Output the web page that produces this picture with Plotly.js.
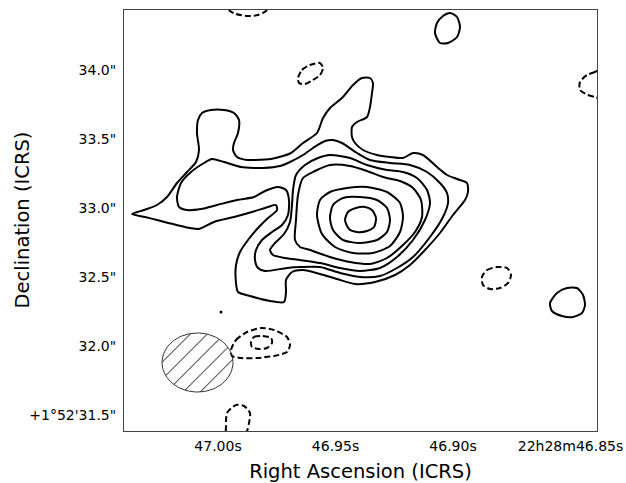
<!DOCTYPE html>
<html>
<head>
<meta charset="utf-8">
<script src="https://cdn.plot.ly/plotly-3.0.1.min.js"></script>
<style>html,body{margin:0;padding:0;background:#fff}#chart{width:626px;height:483px}</style>
</head>
<body>
<div id="chart"></div>
<script>
// Data in image-pixel coordinates (WCS tick labels placed at the matching pixel positions)
const raTickPix = [94, 211.5, 329, 446.5];
const raTickText = ['47.00s', '46.95s', '46.90s', '22h28m46.85s'];
const decTickPix = [16, 85, 154, 223, 292, 361];
const decTickText = ['+1°52\'31.5"', '32.0"', '32.5"', '33.0"', '33.5"', '34.0"'];

// positive contours (solid)
const lev1X = [8,20,33,43,53,63,72,75,73,74,78,87,100,110,115,114,110,109,113,123,130,147,167,179,193,199,206,219,229,238,246,249,248,246,243,233,228,228,231,239,253,266,279,289,299,313,323,333,343,344,341,329,316,301,286,271,251,231,213,196,179,168,162,162,160,146,126,114,112,112,116,124,134,144,153,152,144,128,110,90,75,66,33,21,8];
const lev1Y = [217,221,226,234,248,259,269,281,298,311,318,321,321,318,311,298,288,281,274,271,271,272,278,288,298,313,323,334,346,353,353,348,338,324,314,309,304,294,288,281,276,274,273,278,276,264,256,252,248,239,231,216,198,181,166,156,149,147,152,157,161,159,151,139,129,130,135,139,148,166,179,191,203,213,221,226,224,219,214,209,202,203,211,214,217];
const lev2X = [55,53,57,67,80,88,100,117,130,139,156,166,179,189,201,209,218,233,246,266,286,303,316,323,324,319,306,289,273,256,236,216,196,176,163,141,134,131,132,138,148,158,164,165,162,154,141,130,113,93,77,63,55];
const lev2Y = [224,234,248,259,268,272,269,264,263,263,265,269,276,283,290,291,288,278,271,268,266,259,248,238,228,214,194,174,163,155,154,158,164,164,163,160,163,171,181,191,199,206,216,231,241,244,240,234,231,226,222,221,224];
const lev3X = [172,181,194,206,226,243,263,279,293,303,306,301,289,273,256,236,216,196,176,161,149,146,151,160,166,168,169,172];
const lev3Y = [256,266,273,276,273,266,261,259,253,241,228,211,191,174,163,160,163,168,171,173,176,181,188,197,209,226,241,256];
const lev4X = [179,191,206,226,243,259,276,289,297,298,291,279,263,246,226,206,186,176,171,172,174,179];
const lev4Y = [253,260,266,265,260,254,250,243,231,214,199,186,173,167,169,174,181,184,191,211,236,253];
const lev5X = [193,196,206,223,243,263,276,279,276,266,249,229,211,198,193];
const lev5Y = [216,231,239,243,244,239,228,214,199,185,178,178,184,197,216];
const lev6X = [206,209,219,236,253,263,266,263,253,236,219,209,206];
const lev6Y = [213,226,233,234,231,223,211,199,191,188,191,201,213];
const lev7X = [221,224,232,241,248,252,250,243,233,225,221];
const lev7Y = [211,219,223,224,221,213,204,200,199,202,211];
const blobTopX = [326,333,336,333,324,316,311,313,319,326];
const blobTopY = [418,414,404,394,388,388,398,408,415,418];
const blobRightX = [426,433,443,453,459,461,458,449,438,428,426];
const blobRightY = [128,138,143,143,136,126,118,114,115,120,128];
const dotX = [97];
const dotY = [119];

// negative contours (dashed)
const negAX = [358,363,373,383,387,384,376,366,359,358];
const negAY = [154,161,164,163,156,148,143,142,146,154];
const negBX = [174,178,186,196,199,196,189,181,175,174];
const negBY = [353,361,366,368,363,356,351,347,348,353];
const negCX = [476,471,463,456,456,464,471,476,482,476];
const negCY = [361,359,356,349,341,336,334,333,346,361];
const negDX = [106,112,123,134,142,144,121,104,106];
const negDY = [420,417,415,416,420,425,428,425,420];
const negEX = [116,102,102,103,112,120,126,125,123,116];
const negEY = [-9,0,4,18,26,25,18,8,0,-9];
const negFX = [107,112,123,137,150,163,166,163,150,133,117,108,107];
const negFY = [81,91,99,103,101,94,86,79,75,73,73,75,81];
const negGX = [127,130,138,147,148,143,135,128,127];
const negGY = [89,94,95,93,88,83,82,84,89];

// beam
const beamCenter = [73.5, 68.5];
const beamHalfAxes = [35.5, 29.5];

const solid = [[lev1X,lev1Y],[lev2X,lev2Y],[lev3X,lev3Y],[lev4X,lev4Y],[lev5X,lev5Y],[lev6X,lev6Y],[lev7X,lev7Y],[blobTopX,blobTopY],[blobRightX,blobRightY]];
const dashed = [[negAX,negAY],[negBX,negBY],[negCX,negCY],[negDX,negDY],[negEX,negEY],[negFX,negFY],[negGX,negGY]];

const traces = [];
solid.forEach(([x,y]) => traces.push({type:'scatter', mode:'lines', x:x, y:y, hoverinfo:'skip',
  line:{color:'black', width:2, shape:'spline', smoothing:0.7}}));
dashed.forEach(([x,y]) => traces.push({type:'scatter', mode:'lines', x:x, y:y, hoverinfo:'skip',
  line:{color:'black', width:2, dash:'6px,3px', shape:'spline', smoothing:0.7}}));
traces.push({type:'scatter', mode:'markers', x:dotX, y:dotY, hoverinfo:'skip', marker:{color:'black', size:3}});

const bx = [], by = [];
for (let i = 0; i <= 96; i++) {
  const t = 2 * Math.PI * i / 96;
  bx.push(beamCenter[0] + beamHalfAxes[0] * Math.cos(t));
  by.push(beamCenter[1] + beamHalfAxes[1] * Math.sin(t));
}
traces.push({type:'scatter', mode:'lines', x:bx, y:by, fill:'toself', hoverinfo:'skip',
  fillcolor:'rgba(0,0,0,0)',
  fillpattern:{shape:'/', fgcolor:'black', bgcolor:'rgba(0,0,0,0)', size:12, solidity:0.08},
  line:{color:'#333', width:1}});

const layout = {
  width:626, height:483,
  margin:{l:124, r:29, t:10, b:52},
  paper_bgcolor:'white', plot_bgcolor:'white',
  showlegend:false,
  font:{family:'DejaVu Sans', size:14, color:'black'},
  xaxis:{range:[0,473], showgrid:false, zeroline:false, showline:true, mirror:true,
    linecolor:'#444', linewidth:1, ticks:'outside', ticklen:2, tickcolor:'rgba(0,0,0,0)',
    tickmode:'array', tickvals:raTickPix, ticktext:raTickText, fixedrange:true,
    title:{text:'Right Ascension (ICRS)', font:{size:19.5}, standoff:12}},
  yaxis:{range:[0,421], showgrid:false, zeroline:false, showline:true, mirror:true,
    linecolor:'#444', linewidth:1, ticks:'outside', ticklen:4, tickcolor:'rgba(0,0,0,0)',
    tickmode:'array', tickvals:decTickPix, ticktext:decTickText, fixedrange:true},
  annotations:[{text:'Declination (ICRS)', textangle:-90, xref:'paper', yref:'paper',
    x:0, y:0.5, xanchor:'center', yanchor:'middle', xshift:-102, showarrow:false,
    font:{size:19.5, family:'DejaVu Sans', color:'black'}}]
};
Plotly.newPlot('chart', traces, layout, {staticPlot:true, displayModeBar:false});
</script>
</body>
</html>
